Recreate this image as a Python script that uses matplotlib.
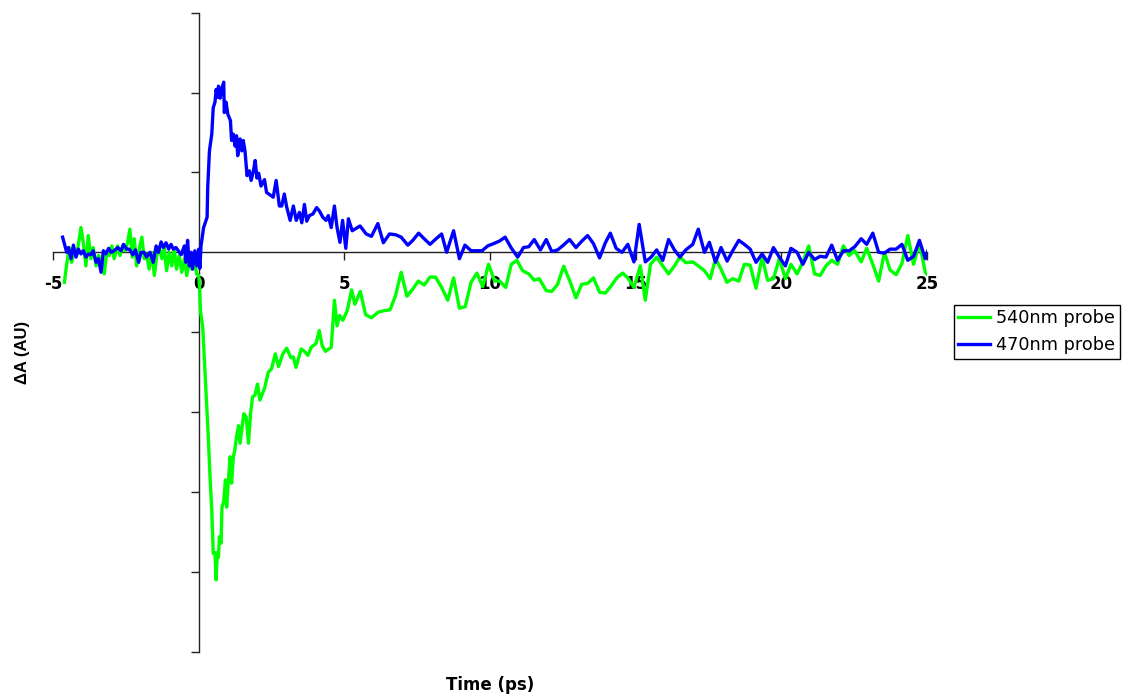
"""
Transient absorption kinetics at two probe wavelengths (540 nm bleach, 470 nm
excited-state absorption) plotted Excel-style with axes crossing at the origin.
"""

import matplotlib
matplotlib.use("Agg")
import matplotlib.pyplot as plt

# ── Data ──────────────────────────────────────────────────────────────────────
t_540 = [
    -4.61, -4.53, -4.44, -4.36, -4.27, -4.19, -4.04, -3.96, -3.87, -3.79,
    -3.70, -3.62, -3.52, -3.43, -3.33, -3.24, -3.16, -3.07, -2.98, -2.90,
    -2.78, -2.70, -2.61, -2.52, -2.44, -2.36, -2.28, -2.21, -2.13, -2.04,
    -1.95, -1.87, -1.79, -1.70, -1.61, -1.52, -1.44, -1.35, -1.26, -1.18,
    -1.10, -1.01, -0.92, -0.84, -0.76, -0.67, -0.58, -0.49, -0.41, -0.32,
    -0.23, -0.15, -0.07, 0.00, 0.03, 0.06, 0.14, 0.25, 0.33, 0.39,
    0.45, 0.50, 0.56, 0.60, 0.64, 0.68, 0.71, 0.77, 0.80, 0.86,
    0.92, 0.96, 1.03, 1.08, 1.13, 1.19, 1.24, 1.30, 1.37, 1.42,
    1.48, 1.55, 1.63, 1.71, 1.78, 1.85, 1.93, 2.02, 2.10, 2.19,
    2.27, 2.39, 2.50, 2.63, 2.74, 2.89, 3.02, 3.17, 3.25, 3.34,
    3.52, 3.63, 3.75, 3.86, 4.03, 4.14, 4.24, 4.35, 4.55, 4.66,
    4.75, 4.84, 4.95, 5.10, 5.25, 5.36, 5.55, 5.73, 5.93, 6.16,
    6.37, 6.57, 6.76, 6.95, 7.15, 7.35, 7.54, 7.74, 7.94, 8.13,
    8.34, 8.55, 8.75, 8.95, 9.15, 9.35, 9.55, 9.75, 9.95, 10.16,
    10.33, 10.54, 10.73, 10.92, 11.12, 11.33, 11.52, 11.69, 11.93, 12.12,
    12.32, 12.53, 12.73, 12.95, 13.15, 13.35, 13.55, 13.76, 13.96, 14.16,
    14.35, 14.55, 14.73, 14.94, 15.16, 15.33, 15.51, 15.72, 15.93, 16.13,
    16.33, 16.52, 16.72, 16.96, 17.15, 17.36, 17.56, 17.74, 17.93, 18.13,
    18.33, 18.54, 18.73, 18.93, 19.13, 19.34, 19.53, 19.73, 19.93, 20.14,
    20.33, 20.54, 20.74, 20.94, 21.14, 21.33, 21.53, 21.73, 21.93, 22.13,
    22.33, 22.52, 22.74, 22.93, 23.14, 23.34, 23.54, 23.73, 23.94, 24.14,
    24.34, 24.54, 24.74, 24.94, 25.04,
]
dA_540 = [
    -0.375, -0.15, 0.06, -0.125, 0.02, -0.04, 0.31, 0.12, -0.17, 0.21,
    -0.08, 0.06, -0.17, -0.04, -0.125, -0.27, 0.00, -0.04, 0.08, -0.08,
    0.08, -0.04, 0.08, 0.02, 0.12, 0.29, -0.06, 0.17, -0.17, 0.04,
    0.19, -0.08, -0.02, -0.21, 0.00, -0.29, -0.04, 0.06, -0.08, 0.06,
    -0.23, 0.00, -0.17, 0.04, -0.21, -0.04, -0.25, -0.08, -0.29, -0.125,
    -0.21, -0.08, -0.27, -0.29, -0.42, -0.73, -0.94, -1.73, -2.31, -2.81,
    -3.23, -3.77, -3.76, -4.10, -3.76, -3.82, -3.56, -3.64, -3.19, -3.12,
    -2.85, -3.19, -2.81, -2.56, -2.89, -2.56, -2.48, -2.31, -2.17, -2.39,
    -2.22, -2.02, -2.06, -2.39, -2.02, -1.81, -1.79, -1.65, -1.85, -1.77,
    -1.69, -1.50, -1.46, -1.27, -1.43, -1.27, -1.20, -1.32, -1.31, -1.44,
    -1.21, -1.24, -1.29, -1.19, -1.14, -0.98, -1.17, -1.24, -1.19, -0.60,
    -0.92, -0.79, -0.85, -0.73, -0.47, -0.65, -0.49, -0.78, -0.82, -0.75,
    -0.73, -0.72, -0.54, -0.25, -0.55, -0.46, -0.36, -0.41, -0.31, -0.31,
    -0.44, -0.60, -0.32, -0.70, -0.68, -0.375, -0.26, -0.43, -0.15, -0.36,
    -0.36, -0.44, -0.15, -0.10, -0.23, -0.27, -0.35, -0.33, -0.48, -0.49,
    -0.40, -0.175, -0.35, -0.57, -0.40, -0.39, -0.32, -0.50, -0.51, -0.42,
    -0.32, -0.26, -0.32, -0.44, -0.17, -0.60, -0.15, -0.06, -0.17, -0.27,
    -0.17, -0.06, -0.13, -0.12, -0.17, -0.23, -0.33, -0.08, -0.21, -0.375,
    -0.33, -0.36, -0.15, -0.16, -0.45, -0.06, -0.35, -0.33, -0.08, -0.33,
    -0.15, -0.27, -0.12, 0.08, -0.27, -0.29, -0.17, -0.10, -0.15, 0.08,
    -0.04, 0.02, -0.12, 0.05, -0.15, -0.36, 0.00, -0.22, -0.28, -0.14,
    0.21, -0.15, 0.125, -0.25, -0.29,
]

t_470 = [
    -4.67, -4.53, -4.47, -4.38, -4.30, -4.21, -4.13, -4.04, -3.96, -3.87,
    -3.78, -3.70, -3.62, -3.52, -3.44, -3.35, -3.27, -3.19, -3.09, -3.00,
    -2.90, -2.78, -2.66, -2.58, -2.47, -2.38, -2.26, -2.17, -2.06, -1.98,
    -1.87, -1.79, -1.67, -1.56, -1.46, -1.38, -1.29, -1.21, -1.12, -1.03,
    -0.95, -0.87, -0.78, -0.60, -0.49, -0.44, -0.38, -0.32, -0.26, -0.21,
    -0.13, -0.06, 0.00, 0.04, 0.08, 0.17, 0.29, 0.31, 0.37, 0.45,
    0.50, 0.56, 0.60, 0.65, 0.68, 0.74, 0.80, 0.86, 0.88, 0.94,
    1.00, 1.09, 1.13, 1.19, 1.25, 1.30, 1.34, 1.42, 1.48, 1.53,
    1.59, 1.66, 1.74, 1.80, 1.88, 1.94, 2.00, 2.06, 2.14, 2.26,
    2.33, 2.48, 2.56, 2.66, 2.77, 2.85, 2.94, 3.02, 3.14, 3.25,
    3.35, 3.46, 3.54, 3.63, 3.71, 3.80, 3.92, 4.05, 4.14, 4.26,
    4.37, 4.45, 4.55, 4.66, 4.75, 4.85, 4.94, 5.05, 5.14, 5.27,
    5.54, 5.75, 5.93, 6.15, 6.34, 6.55, 6.76, 6.95, 7.18, 7.35,
    7.55, 7.74, 7.94, 8.15, 8.34, 8.51, 8.75, 8.95, 9.14, 9.35,
    9.52, 9.73, 9.92, 10.13, 10.32, 10.52, 10.72, 10.95, 11.15, 11.33,
    11.52, 11.73, 11.93, 12.12, 12.32, 12.52, 12.73, 12.95, 13.15, 13.35,
    13.55, 13.76, 13.96, 14.13, 14.33, 14.53, 14.73, 14.94, 15.12, 15.33,
    15.53, 15.72, 15.93, 16.13, 16.33, 16.52, 16.72, 16.96, 17.15, 17.36,
    17.53, 17.74, 17.93, 18.14, 18.33, 18.54, 18.73, 18.93, 19.13, 19.34,
    19.53, 19.73, 19.93, 20.14, 20.33, 20.54, 20.74, 20.94, 21.14, 21.33,
    21.53, 21.73, 21.93, 22.13, 22.33, 22.52, 22.74, 22.93, 23.14, 23.34,
    23.54, 23.73, 23.94, 24.14, 24.34, 24.54, 24.74, 24.94, 25.03,
]
dA_470 = [
    0.19, 0.00, 0.06, -0.08, 0.09, -0.06, 0.04, -0.02, 0.02, -0.06,
    -0.02, -0.03, 0.02, -0.125, -0.08, -0.25, 0.02, -0.02, 0.05, 0.00,
    0.02, 0.06, 0.02, 0.10, 0.04, 0.04, -0.03, 0.03, -0.125, 0.00,
    0.00, -0.06, 0.00, -0.125, 0.08, 0.00, 0.13, 0.06, 0.12, 0.04,
    0.10, 0.04, 0.06, -0.03, 0.08, -0.125, 0.15, -0.17, 0.00, -0.21,
    0.02, -0.17, 0.04, -0.20, 0.08, 0.31, 0.44, 0.81, 1.27, 1.48,
    1.81, 1.88, 2.04, 1.94, 2.08, 1.93, 2.06, 2.13, 1.75, 1.88,
    1.73, 1.65, 1.40, 1.48, 1.33, 1.46, 1.21, 1.42, 1.27, 1.40,
    1.27, 0.96, 1.02, 0.90, 1.02, 1.15, 0.93, 0.99, 0.83, 0.91,
    0.75, 0.71, 0.69, 0.90, 0.58, 0.58, 0.73, 0.57, 0.40, 0.58,
    0.40, 0.50, 0.37, 0.60, 0.39, 0.46, 0.48, 0.56, 0.52, 0.44,
    0.40, 0.46, 0.31, 0.58, 0.31, 0.125, 0.40, 0.05, 0.42, 0.27,
    0.33, 0.23, 0.20, 0.36, 0.12, 0.23, 0.22, 0.19, 0.09, 0.15,
    0.24, 0.17, 0.10, 0.17, 0.23, 0.00, 0.27, -0.08, 0.09, 0.02,
    0.02, 0.02, 0.08, 0.11, 0.14, 0.19, 0.06, -0.06, 0.06, 0.07,
    0.16, 0.03, 0.16, 0.01, 0.03, 0.09, 0.16, 0.06, 0.14, 0.21,
    0.11, -0.07, 0.12, 0.24, 0.05, 0.00, 0.10, -0.12, 0.35, -0.12,
    -0.06, 0.03, -0.10, 0.16, 0.03, -0.06, 0.03, 0.10, 0.29, 0.00,
    0.125, -0.125, 0.06, -0.11, 0.02, 0.15, 0.10, 0.04, -0.125, -0.02,
    -0.125, 0.06, -0.06, -0.17, 0.05, 0.00, -0.15, 0.00, -0.09, -0.05,
    -0.06, 0.09, -0.10, 0.02, 0.02, 0.07, 0.17, 0.10, 0.24, 0.00,
    -0.01, 0.04, 0.04, 0.10, -0.10, -0.05, 0.15, -0.08, 0.02,
]

x_ticks = [-5, 0, 5, 10, 15, 20, 25]
y_ticks = [-5, -4, -3, -2, -1, 0, 1, 2, 3]

# ── Figure ────────────────────────────────────────────────────────────────────
# wide sans for horizontal text, narrow one for the rotated y label
WIDE = ["DejaVu Sans"]
NARROW = ["Liberation Sans", "DejaVu Sans"]
plt.rcParams["font.family"] = WIDE

W, H = 1125, 695
fig = plt.figure(figsize=(W / 100, H / 100), dpi=100)
ax = fig.add_axes([53 / W, 1 - 651.7 / H, 874 / W, 639 / H])

ax.plot(t_540, dA_540, color="#00FF00", lw=2.4, label="540nm probe", zorder=3)
ax.plot(t_470, dA_470, color="#0000FF", lw=2.4, label="470nm probe", zorder=3)

ax.set_xlim(-5, 25)
ax.set_ylim(-5, 3)

# axes cross at the origin
for side in ("top", "right"):
    ax.spines[side].set_visible(False)
ax.spines["left"].set_position(("data", 0))
ax.spines["bottom"].set_position(("data", 0))
for side in ("left", "bottom"):
    ax.spines[side].set_linewidth(1.0)
    ax.spines[side].set_color("#222222")

ax.set_xticks(x_ticks)
ax.set_xticklabels([str(v) for v in x_ticks], fontsize=12, fontweight="bold")
ax.set_yticks(y_ticks)
ax.set_yticklabels([])
ax.tick_params(axis="both", direction="out", length=6, width=1.0, color="#222222")
ax.tick_params(axis="x", pad=10)

fig.text(22 / W, 1 - 352 / H, "ΔA (AU)", rotation=90, ha="center", va="center",
         fontsize=12, fontweight="bold", family=NARROW)
fig.text(490 / W, 1 - 685 / H, "Time (ps)", ha="center", va="center",
         fontsize=12, fontweight="bold")

leg = fig.legend(loc="upper left", bbox_to_anchor=(954 / W, 1 - 305 / H),
                 fontsize=12.7, frameon=True, fancybox=False, edgecolor="black",
                 framealpha=1, borderaxespad=0, handlelength=1.8,
                 handletextpad=0.35, borderpad=0.25, labelspacing=0.5)
leg.get_frame().set_linewidth(1.0)

fig.savefig("out.png", dpi=100)
